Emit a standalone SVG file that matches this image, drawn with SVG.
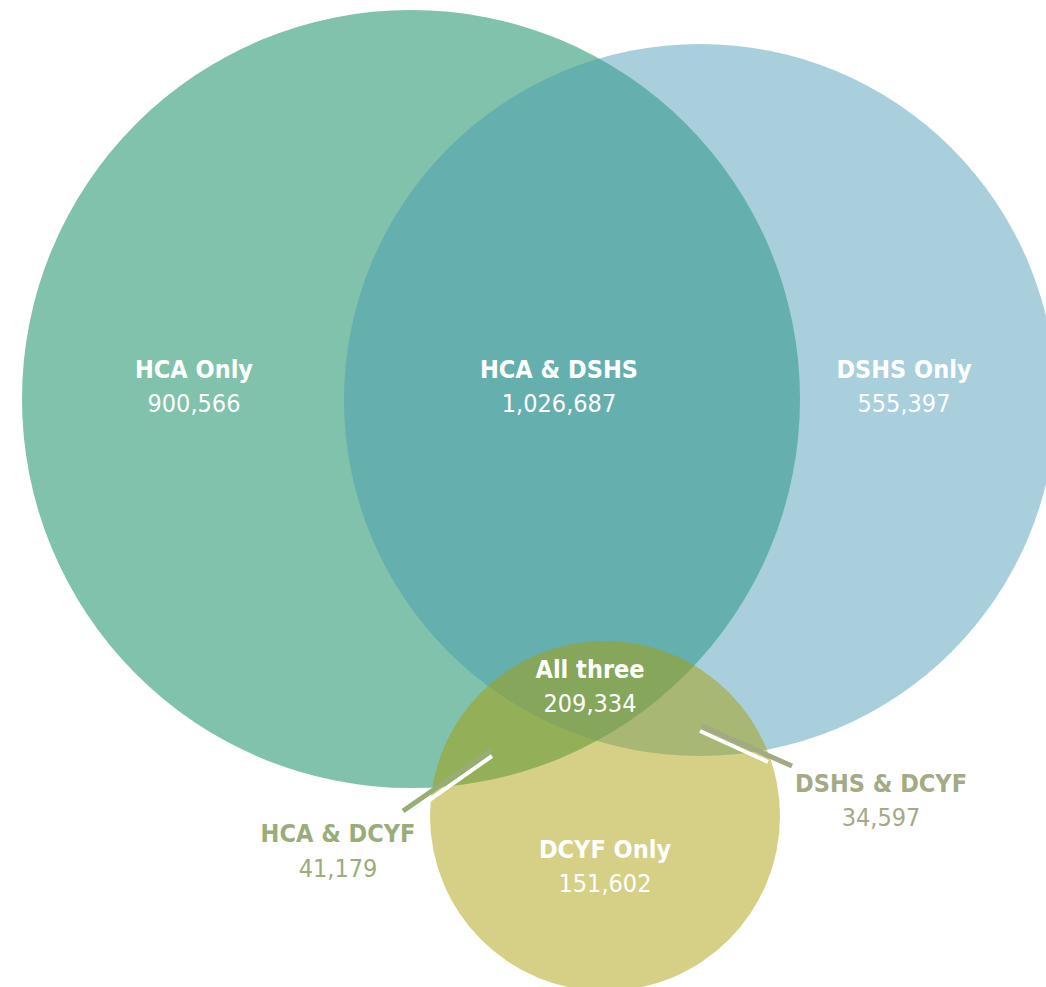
<svg xmlns="http://www.w3.org/2000/svg" width="1046" height="987" viewBox="0 0 1046 987">
<style>
text{font-family:"DejaVu Sans Condensed","DejaVu Sans",sans-serif;font-size:25px;text-anchor:middle}
.b{font-weight:bold}
.w{fill:#ffffff}
.g{fill:#9aad79}
.s{fill:#a4a986}
</style>
<rect width="1046" height="987" fill="#ffffff"/>
<g id="hca"><circle cx="411" cy="399" r="389" fill="#80c2ab"/></g>
<g id="dshs"><circle cx="700" cy="400" r="356" fill="#4999b5" fill-opacity="0.47"/></g>
<g id="dcyf"><circle cx="605" cy="816" r="175" fill="#a89d00" fill-opacity="0.48"/></g>
<g id="connectors">
<line x1="403" y1="811" x2="491" y2="750" stroke="#98ac76" stroke-width="5"/>
<line x1="428" y1="801" x2="492" y2="756" stroke="#ffffff" stroke-width="4"/>
<line x1="702" y1="726" x2="792" y2="766" stroke="#a3a985" stroke-width="5"/>
<line x1="700" y1="731" x2="768" y2="762" stroke="#ffffff" stroke-width="4"/>
</g>
<g id="label-hca-only"><text class="b w" x="194" y="378">HCA Only</text><text class="w" x="194" y="412">900,566</text></g>
<g id="label-hca-dshs"><text class="b w" x="559" y="378">HCA &amp; DSHS</text><text class="w" x="559" y="412">1,026,687</text></g>
<g id="label-dshs-only"><text class="b w" x="904" y="378">DSHS Only</text><text class="w" x="904" y="412">555,397</text></g>
<g id="label-all"><text class="b w" x="590" y="678">All three</text><text class="w" x="590" y="712">209,334</text></g>
<g id="label-dcyf-only"><text class="b w" x="605" y="858">DCYF Only</text><text class="w" x="605" y="892">151,602</text></g>
<g id="label-hca-dcyf"><text class="b g" x="338" y="842">HCA &amp; DCYF</text><text class="g" x="338" y="877">41,179</text></g>
<g id="label-dshs-dcyf"><text class="b s" x="881" y="792">DSHS &amp; DCYF</text><text class="s" x="881" y="826">34,597</text></g>
</svg>
